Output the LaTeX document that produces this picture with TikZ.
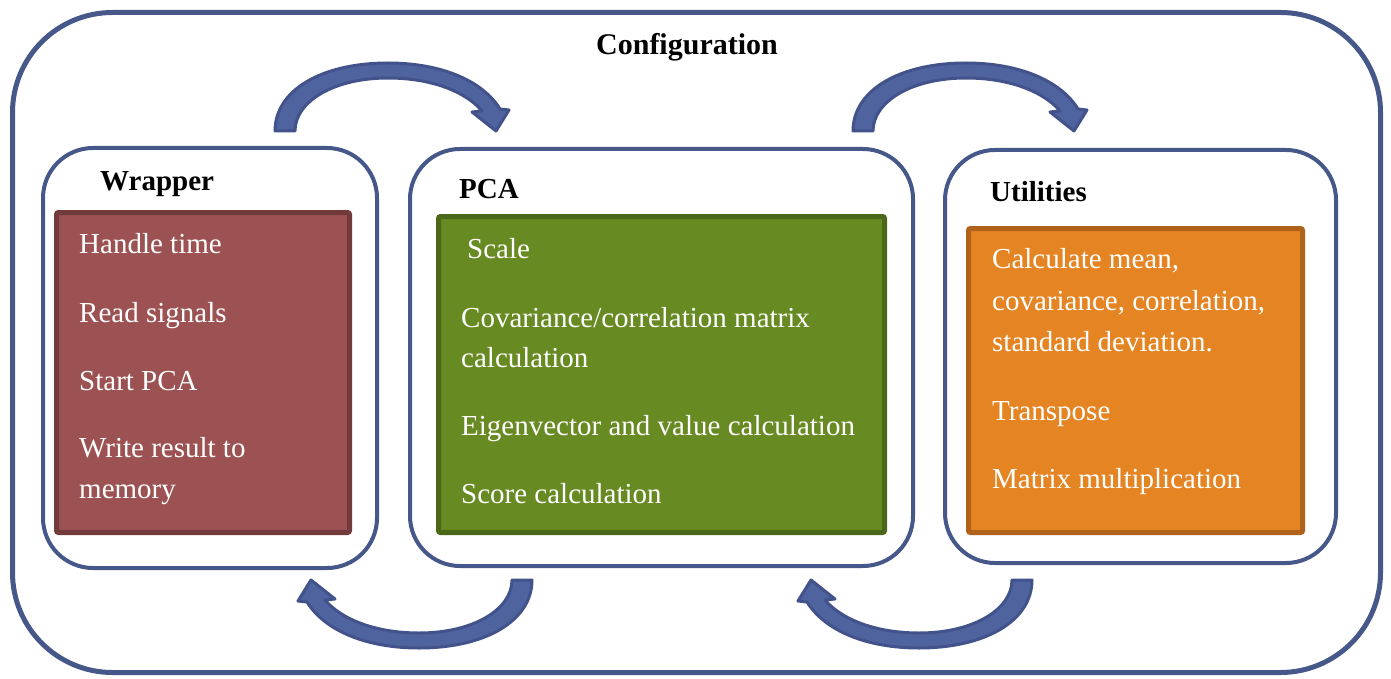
\documentclass[tikz,border=0pt]{standalone}
\usepackage{fontspec}
\setmainfont{Liberation Serif}
\definecolor{frameblue}{HTML}{46588A}
\definecolor{arrowfill}{HTML}{4F639F}
\definecolor{arrowline}{HTML}{42528A}
\definecolor{redfill}{HTML}{9C5252}
\definecolor{redline}{HTML}{733A3B}
\definecolor{greenfill}{HTML}{678A22}
\definecolor{greenline}{HTML}{4A6818}
\definecolor{orangefill}{HTML}{E58422}
\definecolor{orangeline}{HTML}{B0621A}
\newcommand{\bentarrow}{%
  \draw[blockarrow] (275,131) .. controls (275,90) and (322,63) .. (388,63)
    .. controls (440,63) and (482,80) .. (500,109) -- (509,110) -- (496,131) -- (472,112) -- (482,111)
    .. controls (466,92) and (432,78) .. (388,78) .. controls (333,78) and (295,102) .. (295,131) -- cycle;}
\begin{document}
\begin{tikzpicture}[x=1pt,y=-1pt,
  framebox/.style={draw=frameblue, line width=4pt, rounded corners=50pt, inner sep=0pt, outer sep=0pt},
  innerbox/.style={line width=5pt, rounded corners=2pt, inner sep=0pt, outer sep=0pt},
  blockarrow/.style={fill=arrowfill, draw=arrowline, line width=3pt, line join=round},
  txt/.style={anchor=base west, inner sep=0pt, text=white, font=\fontsize{29}{35}\selectfont},
  ttl/.style={anchor=base west, inner sep=0pt, text=black, font=\fontsize{29}{35}\selectfont\bfseries}]
\useasboundingbox (0,0) rectangle (1391,679);

% outer configuration frame
\node[framebox, line width=5pt, rounded corners=100pt, minimum width=1368pt, minimum height=660pt] (config) at (696.5,342.5) {};
\node[anchor=base, inner sep=0pt, font=\fontsize{30}{36}\selectfont\bfseries] (configtitle) at (687,55) {Configuration};

% curved block arrows
\bentarrow
\begin{scope}[shift={(578,0)}]\bentarrow\end{scope}
\begin{scope}[rotate around={180:(403.5,355.5)}]\bentarrow\end{scope}
\begin{scope}[shift={(500,0)}]\begin{scope}[rotate around={180:(403.5,355.5)}]\bentarrow\end{scope}\end{scope}

% Wrapper
\node[framebox, minimum width=334pt, minimum height=420pt] (wrapper) at (210,358) {};
\node[innerbox, draw=redline, fill=redfill, minimum width=293pt, minimum height=320pt] (wrapperin) at (203,372.5) {};
\node[ttl] (wrappertitle) at (100,190) {Wrapper};
\node[txt] (w1) at (79,253) {Handle time};
\node[txt] (w2) at (79,322) {Read signals};
\node[txt] (w3) at (79,390) {Start PCA};
\node[txt] (w4) at (79,457) {Write result to};
\node[txt] (w5) at (79,498) {memory};

% PCA
\node[framebox, minimum width=503pt, minimum height=417pt] (pca) at (661.5,357.5) {};
\node[innerbox, draw=greenline, fill=greenfill, minimum width=446pt, minimum height=316pt] (pcain) at (661.5,374.5) {};
\node[ttl] (pcatitle) at (459,198) {PCA};
\node[txt] (p1) at (467,258) {Scale};
\node[txt] (p2) at (461,327) {Covariance/correlation matrix};
\node[txt] (p3) at (461,367) {calculation};
\node[txt] (p4) at (461,435) {Eigenvector and value calculation};
\node[txt] (p5) at (461,503) {Score calculation};

% Utilities
\node[framebox, minimum width=391pt, minimum height=413pt] (util) at (1140.5,356.5) {};
\node[innerbox, draw=orangeline, fill=orangefill, minimum width=334pt, minimum height=304pt] (utilin) at (1135.5,380.5) {};
\node[ttl] (utiltitle) at (990,201) {Utilities};
\node[txt] (u1) at (992,268) {Calculate mean,};
\node[txt] (u2) at (992,310) {covariance, correlation,};
\node[txt] (u3) at (992,351) {standard deviation.};
\node[txt] (u4) at (992,420) {Transpose};
\node[txt] (u5) at (992,488) {Matrix multiplication};
\end{tikzpicture}
\end{document}
